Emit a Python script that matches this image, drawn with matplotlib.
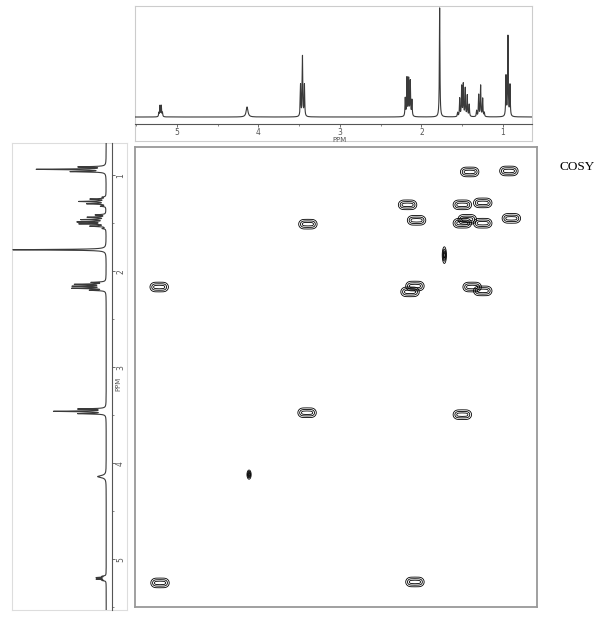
import numpy as np
import matplotlib.pyplot as plt

# 1H lines (ppm, relative height, singlet = 100)
line_ppm = [5.222, 5.208, 5.192, 5.178,
            4.140,
            3.484, 3.460, 3.436,
            2.199, 2.178, 2.157, 2.137, 2.117,
            1.777,
            1.556, 1.531, 1.507, 1.487, 1.463, 1.438, 1.414,
            1.323, 1.298, 1.274, 1.249, 1.229,
            0.963, 0.939, 0.914]
line_height = [3.7, 10, 10, 3.7,
               9.2,
               29, 55, 29,
               16.5, 35, 34, 32, 14.7,
               100,
               3.7, 16.5, 27.5, 29.4, 25.7, 19.3, 11,
               5.5, 20, 28.4, 16.5, 3.7,
               36.7, 73.4, 28.4]
line_hw = [0.004] * len(line_ppm)
line_hw[4] = 0.013   # broad OH-like signal

# COSY cross/diagonal peaks (F2 ppm, F1 ppm)
cross_f2 = [1.41, 0.93, 2.17, 1.50, 1.25, 2.06, 1.44, 1.50, 1.25, 0.90,
            2.08, 2.14, 1.38, 1.25, 5.21, 3.39, 3.40, 1.50, 5.20, 2.08]
cross_f1 = [0.96, 0.95, 1.30, 1.30, 1.28, 1.46, 1.45, 1.49, 1.49, 1.44,
            2.14, 2.20, 2.15, 2.19, 2.15, 1.50, 3.45, 3.47, 5.21, 5.20]
# narrow singlet diagonals (F2, F1, width in F1)
narrow_f2 = [1.72, 4.11]
narrow_f1 = [1.82, 4.09]
narrow_sy = [0.040, 0.022]

ticks = [1, 2, 3, 4, 5]
minor = [1.5, 2.5, 3.5, 4.5, 5.5]

W, H = 611, 620
fig = plt.figure(figsize=(W / 100, H / 100), dpi=100)


def rect(x0, y0, x1, y1):
    return [x0 / W, 1 - y1 / H, (x1 - x0) / W, (y1 - y0) / H]


def spectrum(ppm):
    s = np.zeros_like(ppm)
    for p, h, w in zip(line_ppm, line_height, line_hw):
        s += h * w ** 2 / ((ppm - p) ** 2 + w ** 2)
    return s


grey = '#555555'

# ---- top projection
top_frame = fig.add_axes(rect(135, 6, 532, 141))
top_frame.set_xticks([])
top_frame.set_yticks([])
for sp in top_frame.spines.values():
    sp.set_color('#cccccc')
    sp.set_linewidth(0.8)

top = fig.add_axes(rect(135, 6, 532, 141), facecolor='none')
xs = np.linspace(0.644, 5.515, 30000)
top.plot(xs, spectrum(xs), color='#3a3a3a', lw=0.8)
top.set_xlim(5.515, 0.644)
top.set_ylim(-22, 101.8)
for s in ['top', 'left', 'right']:
    top.spines[s].set_visible(False)
top.spines['bottom'].set_position(('data', -6.4))
top.spines['bottom'].set_color(grey)
top.spines['bottom'].set_linewidth(0.8)
top.set_yticks([])
top.set_xticks(ticks)
top.set_xticks(minor, minor=True)
top.tick_params(axis='x', which='major', length=2.5, width=0.6, pad=0.2,
                labelsize=5.5, colors=grey)
top.tick_params(axis='x', which='minor', length=1.5, width=0.5, colors=grey)
top.text(3.0, -21.0, 'PPM', ha='center', va='center', fontsize=5, color=grey)

# ---- left projection
left_frame = fig.add_axes(rect(12, 143, 127, 610))
left_frame.set_xticks([])
left_frame.set_yticks([])
for sp in left_frame.spines.values():
    sp.set_color('#dddddd')
    sp.set_linewidth(0.8)

left = fig.add_axes(rect(12, 143, 127, 610), facecolor='none')
ys = np.linspace(0.665, 5.53, 30000)
left.plot(spectrum(ys), ys, color='#3a3a3a', lw=0.8)
left.set_xlim(101, -22.3)
left.set_ylim(5.53, 0.665)
for s in ['top', 'left', 'bottom']:
    left.spines[s].set_visible(False)
left.spines['right'].set_position(('data', -6.4))
left.spines['right'].set_color(grey)
left.spines['right'].set_linewidth(0.8)
left.set_xticks([])
left.yaxis.tick_right()
left.set_yticks(ticks)
left.set_yticks(minor, minor=True)
left.tick_params(axis='y', which='major', length=2.5, width=0.6, pad=0.3,
                 labelsize=5.5, colors=grey, labelrotation=90)
left.tick_params(axis='y', which='minor', length=1.5, width=0.5, colors=grey)
for lab in left.get_yticklabels():
    lab.set_va('center')
left.text(-13, 3.17, 'PPM', ha='center', va='center', rotation=90,
          fontsize=5, color=grey)

# ---- 2D COSY map
ax = fig.add_axes(rect(135, 147, 537, 607))
levels = [0.12, 0.45, 0.95]
for f2, f1 in zip(cross_f2, cross_f1):
    gx = np.linspace(f2 - 0.18, f2 + 0.18, 180)
    gy = np.linspace(f1 - 0.09, f1 + 0.09, 90)
    py = np.exp(-0.5 * ((gy - f1) / 0.023) ** 2)
    px = sum(np.exp(-0.5 * ((gx - f2 - d) / 0.028) ** 2) for d in (-0.055, 0, 0.055))
    ax.contour(gx, gy, np.outer(py, px), levels=levels, colors='black',
               linewidths=0.6)
for f2, f1, sy in zip(narrow_f2, narrow_f1, narrow_sy):
    gx = np.linspace(f2 - 0.06, f2 + 0.06, 60)
    gy = np.linspace(f1 - 5 * sy, f1 + 5 * sy, 120)
    py = np.exp(-0.5 * ((gy - f1) / sy) ** 2)
    px = np.exp(-0.5 * ((gx - f2) / 0.012) ** 2)
    ax.contour(gx, gy, np.outer(py, px), levels=[0.1, 0.3, 0.55, 0.8],
               colors='black', linewidths=0.6)
ax.set_xlim(5.506, 0.586)
ax.set_ylim(5.459, 0.702)
ax.set_xticks([])
ax.set_yticks([])
for sp in ax.spines.values():
    sp.set_color('#999999')
    sp.set_linewidth(1.3)

fig.text(577 / W, 1 - 167 / H, 'COSY', ha='center', va='center',
         fontsize=9.5, family='Liberation Serif')

fig.savefig('out.png', dpi=100)
